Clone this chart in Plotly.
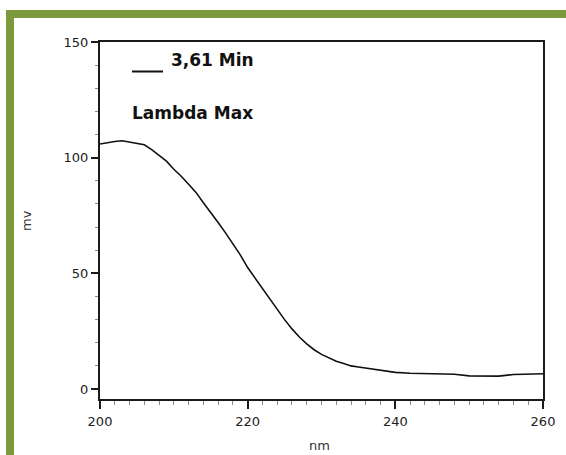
import plotly.graph_objects as go

# UV spectrum at the 3,61 min peak
wavelength = [200, 201, 202, 203, 204, 205, 206, 207, 208, 209, 210, 211, 212, 213, 214,
              215, 216, 217, 218, 219, 220, 221, 222, 223, 224, 225, 226, 227, 228, 229,
              230, 231, 232, 233, 234, 235, 236, 237, 238, 239, 240, 242, 244, 246, 248,
              250, 252, 254, 256, 258, 260]
absorbance = [105.9, 106.6, 107.0, 107.3, 106.8, 106.2, 105.6, 103.5, 101.0, 98.5, 95.0,
              92.0, 88.5, 85.0, 80.5, 76.5, 72.0, 67.5, 63.0, 58.0, 52.5, 48.0, 43.5, 38.5,
              34.5, 30.0, 26.0, 22.5, 19.5, 17.0, 15.0, 13.5, 12.0, 11.0, 10.0, 9.5, 9.0,
              8.5, 8.0, 7.5, 7.2, 6.8, 6.6, 6.5, 6.4, 5.7, 5.6, 5.6, 6.3, 6.5, 6.6]

x_ticks = [200, 220, 240, 260]
y_ticks = [0, 50, 100, 150]
series_name = "3,61 Min"
note = "Lambda Max"
x_title = "nm"
y_title = "mv"

W, H = 566, 455
ML, MR, MT, MB = 100, 23, 42, 56
PW, PH = W - ML - MR, H - MT - MB


def px(x):
    return (x - ML) / PW


def py(y):
    return (H - MB - y) / PH


FONT = "DejaVu Sans, Verdana, sans-serif"
FRAME = "#7a9a3b"
AXIS = "#1a1a1a"
INK = "#111111"

fig = go.Figure()
fig.add_trace(go.Scatter(
    x=wavelength, y=absorbance, mode="lines", name=series_name,
    line=dict(color=INK, width=1.6), showlegend=False,
))

fig.update_layout(
    width=W, height=H,
    margin=dict(l=ML, r=MR, t=MT, b=MB),
    paper_bgcolor="white", plot_bgcolor="white",
    font=dict(family=FONT, color=INK),
    showlegend=False,
    xaxis=dict(
        range=[200, 260], tickvals=x_ticks, ticktext=[str(v) for v in x_ticks],
        showgrid=False, zeroline=False, automargin=False,
        showline=True, linecolor=AXIS, linewidth=2, mirror=True,
        ticks="outside", ticklen=8, tickwidth=1.5, tickcolor=AXIS,
        ticklabelstandoff=1,
        tickfont=dict(size=13, color="#222"),
        minor=dict(dtick=2, ticks="outside", ticklen=4, tickwidth=1, tickcolor="#888",
                   showgrid=False),
    ),
    yaxis=dict(
        range=[-4.3, 150], tickvals=y_ticks, ticktext=[str(v) for v in y_ticks],
        showgrid=False, zeroline=False, automargin=False,
        showline=True, linecolor=AXIS, linewidth=2, mirror=True,
        ticks="outside", ticklen=7, tickwidth=1.5, tickcolor=AXIS,
        tickfont=dict(size=13, color="#222"),
        minor=dict(dtick=10, ticks="outside", ticklen=3, tickwidth=1, tickcolor="#888",
                   showgrid=False),
    ),
    annotations=[
        # legend entry for the trace
        dict(text=series_name, xref="paper", yref="paper", x=px(169), y=py(60),
             xanchor="left", yanchor="middle", showarrow=False,
             font=dict(size=17, weight="bold", color=INK)),
        dict(text=note, xref="paper", yref="paper", x=px(130), y=py(113),
             xanchor="left", yanchor="middle", showarrow=False,
             font=dict(size=17, weight="bold", color=INK)),
        # axis titles
        dict(text=x_title, xref="paper", yref="paper", x=px(319), y=py(445),
             xanchor="center", yanchor="middle", showarrow=False,
             font=dict(size=13, color="#333")),
        dict(text=y_title, xref="paper", yref="paper", x=px(26), y=py(221),
             xanchor="center", yanchor="middle", showarrow=False, textangle=-90,
             font=dict(size=13, color="#333")),
    ],
    shapes=[
        # legend sample line
        dict(type="line", xref="paper", yref="paper",
             x0=px(132), x1=px(163), y0=py(71.5), y1=py(71.5),
             line=dict(color=INK, width=2)),
        # outer frame
        dict(type="rect", xref="paper", yref="paper", layer="above",
             x0=px(10), x1=px(700), y0=py(14), y1=py(700),
             line=dict(color=FRAME, width=8), fillcolor="rgba(0,0,0,0)"),
    ],
)

fig.write_html("out.html")
